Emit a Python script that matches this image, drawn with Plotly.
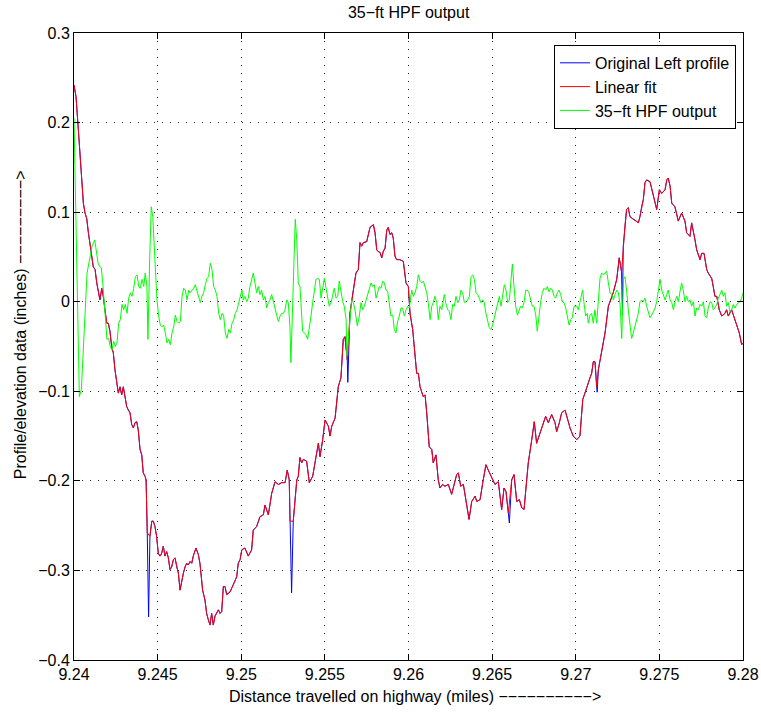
import plotly.graph_objects as go

# ---------------- data ----------------
fit_x = [9.24000, 9.24012, 9.24026, 9.24036, 9.24046, 9.24056, 9.24066, 9.24076, 9.24086, 9.24096,
         9.24106, 9.24115, 9.24126, 9.24136, 9.24145, 9.24155, 9.24166, 9.24175, 9.24185, 9.24196,
         9.24205, 9.24215, 9.24225, 9.24235, 9.24245, 9.24255, 9.24265, 9.24275, 9.24285, 9.24295,
         9.24305, 9.24315, 9.24325, 9.24335, 9.24345, 9.24355, 9.24365, 9.24375, 9.24384, 9.24395,
         9.24405, 9.24414, 9.24425, 9.24431, 9.24438, 9.24454, 9.24465, 9.24474, 9.24484, 9.24494,
         9.24504, 9.24514, 9.24524, 9.24534, 9.24544, 9.24554, 9.24564, 9.24574, 9.24584, 9.24594,
         9.24604, 9.24614, 9.24624, 9.24634, 9.24644, 9.24654, 9.24664, 9.24674, 9.24683, 9.24694,
         9.24704, 9.24713, 9.24729, 9.24743, 9.24753, 9.24769, 9.24783, 9.24793, 9.24803, 9.24813,
         9.24823, 9.24833, 9.24843, 9.24853, 9.24863, 9.24873, 9.24883, 9.24893, 9.24903, 9.24913,
         9.24923, 9.24933, 9.24952, 9.24963, 9.24973, 9.24982, 9.24993, 9.25003, 9.25022, 9.25042,
         9.25062, 9.25072, 9.25092, 9.25112, 9.25132, 9.25142, 9.25162, 9.25182, 9.25202, 9.25222,
         9.25242, 9.25262, 9.25275, 9.25287, 9.25291, 9.25311, 9.25321, 9.25332, 9.25341, 9.25351,
         9.25361, 9.25371, 9.25391, 9.25407, 9.25427, 9.25441, 9.25461, 9.25471, 9.25487, 9.25501,
         9.25521, 9.25531, 9.25541, 9.25561, 9.25580, 9.25596, 9.25610, 9.25620, 9.25634, 9.25650,
         9.25670, 9.25686, 9.25700, 9.25710, 9.25720, 9.25730, 9.25750, 9.25760, 9.25770, 9.25790,
         9.25800, 9.25810, 9.25819, 9.25830, 9.25840, 9.25849, 9.25860, 9.25870, 9.25879, 9.25889,
         9.25900, 9.25909, 9.25919, 9.25929, 9.25949, 9.25969, 9.25985, 9.25999, 9.26009, 9.26025,
         9.26039, 9.26049, 9.26059, 9.26069, 9.26088, 9.26099, 9.26109, 9.26124, 9.26139, 9.26148,
         9.26164, 9.26178, 9.26188, 9.26204, 9.26218, 9.26238, 9.26258, 9.26272, 9.26288, 9.26298,
         9.26312, 9.26328, 9.26338, 9.26348, 9.26362, 9.26378, 9.26398, 9.26408, 9.26428, 9.26444,
         9.26463, 9.26477, 9.26497, 9.26517, 9.26537, 9.26557, 9.26571, 9.26583, 9.26597, 9.26617,
         9.26631, 9.26647, 9.26663, 9.26677, 9.26691, 9.26703, 9.26716, 9.26737, 9.26752, 9.26766,
         9.26786, 9.26806, 9.26820, 9.26836, 9.26856, 9.26876, 9.26886, 9.26902, 9.26916, 9.26936,
         9.26949, 9.26966, 9.26985, 9.27006, 9.27025, 9.27042, 9.27055, 9.27069, 9.27085, 9.27095,
         9.27105, 9.27115, 9.27125, 9.27135, 9.27145, 9.27155, 9.27175, 9.27195, 9.27215, 9.27224,
         9.27245, 9.27260, 9.27274, 9.27284, 9.27294, 9.27304, 9.27314, 9.27324, 9.27344, 9.27364,
         9.27374, 9.27384, 9.27394, 9.27404, 9.27414, 9.27424, 9.27444, 9.27464, 9.27484, 9.27500,
         9.27514, 9.27534, 9.27544, 9.27553, 9.27564, 9.27574, 9.27593, 9.27613, 9.27633, 9.27653,
         9.27663, 9.27683, 9.27693, 9.27713, 9.27723, 9.27743, 9.27753, 9.27767, 9.27783, 9.27792,
         9.27813, 9.27822, 9.27832, 9.27843, 9.27858, 9.27873, 9.27892, 9.27902, 9.27912, 9.27932,
         9.27952, 9.27962, 9.27978, 9.27992, 9.28000]
fit_y = [0.242, 0.229, 0.192, 0.162, 0.133, 0.110, 0.099, 0.093, 0.077, 0.066,
         0.051, 0.039, 0.036, 0.021, 0.010, 0.002, 0.015, 0.006, -0.009, -0.024,
         -0.024, -0.033, -0.050, -0.057, -0.076, -0.087, -0.102, -0.095, -0.104, -0.095,
         -0.106, -0.117, -0.121, -0.124, -0.137, -0.141, -0.135, -0.134, -0.143, -0.165,
         -0.171, -0.191, -0.195, -0.199, -0.258, -0.262, -0.245, -0.245, -0.251, -0.262,
         -0.281, -0.284, -0.281, -0.273, -0.284, -0.279, -0.286, -0.299, -0.296, -0.288,
         -0.286, -0.296, -0.303, -0.322, -0.310, -0.303, -0.296, -0.292, -0.294, -0.290,
         -0.292, -0.284, -0.275, -0.282, -0.292, -0.322, -0.333, -0.348, -0.355, -0.361,
         -0.348, -0.361, -0.351, -0.348, -0.344, -0.348, -0.346, -0.318, -0.318, -0.327,
         -0.325, -0.324, -0.316, -0.312, -0.307, -0.292, -0.288, -0.277, -0.275, -0.284,
         -0.277, -0.255, -0.251, -0.240, -0.238, -0.227, -0.238, -0.214, -0.201, -0.204,
         -0.202, -0.202, -0.188, -0.199, -0.245, -0.245, -0.221, -0.199, -0.195, -0.174,
         -0.180, -0.176, -0.178, -0.202, -0.195, -0.180, -0.158, -0.173, -0.154, -0.132,
         -0.139, -0.150, -0.139, -0.130, -0.095, -0.085, -0.042, -0.039, -0.065, -0.013,
         0.013, 0.032, 0.036, 0.066, 0.062, 0.066, 0.067, 0.077, 0.083, 0.086,
         0.077, 0.058, 0.056, 0.055, 0.049, 0.056, 0.060, 0.080, 0.083, 0.075,
         0.077, 0.071, 0.051, 0.047, 0.047, 0.045, 0.021, 0.017, -0.013, -0.031,
         -0.057, -0.080, -0.080, -0.095, -0.106, -0.104, -0.124, -0.162, -0.165, -0.180,
         -0.171, -0.199, -0.208, -0.204, -0.206, -0.204, -0.215, -0.204, -0.193, -0.191,
         -0.206, -0.204, -0.217, -0.227, -0.243, -0.223, -0.217, -0.223, -0.221, -0.202,
         -0.182, -0.188, -0.197, -0.204, -0.201, -0.232, -0.208, -0.212, -0.236, -0.199,
         -0.193, -0.223, -0.221, -0.230, -0.232, -0.206, -0.180, -0.154, -0.134, -0.158,
         -0.147, -0.135, -0.128, -0.135, -0.126, -0.135, -0.145, -0.135, -0.124, -0.121,
         -0.130, -0.141, -0.150, -0.154, -0.150, -0.109, -0.102, -0.093, -0.085, -0.080,
         -0.067, -0.067, -0.095, -0.076, -0.065, -0.055, -0.035, -0.005, 0.006, 0.010,
         0.025, 0.049, 0.033, 0.062, 0.084, 0.103, 0.105, 0.095, 0.092, 0.090,
         0.088, 0.095, 0.106, 0.114, 0.133, 0.136, 0.134, 0.118, 0.103, 0.125,
         0.121, 0.125, 0.136, 0.138, 0.129, 0.110, 0.106, 0.090, 0.099, 0.090,
         0.077, 0.073, 0.088, 0.069, 0.058, 0.047, 0.054, 0.054, 0.036, 0.032,
         0.026, 0.017, 0.006, 0.006, -0.009, -0.016, -0.013, -0.009, -0.016, -0.009,
         -0.020, -0.024, -0.035, -0.048, -0.046]

# samples where the original profile drops below the fitted line
spike_x = [9.24446, 9.25301, 9.25637, 9.26603, 9.27128, 9.27279]
spike_y = [-0.352, -0.325, -0.090, -0.247, -0.101, -0.015]

hpf_x = [9.24000, 9.24012, 9.24024, 9.24032, 9.24044, 9.24058, 9.24078, 9.24097, 9.24108, 9.24124,
         9.24132, 9.24144, 9.24154, 9.24163, 9.24172, 9.24181, 9.24187, 9.24197, 9.24207, 9.24217,
         9.24227, 9.24237, 9.24247, 9.24257, 9.24267, 9.24277, 9.24287, 9.24297, 9.24307, 9.24317,
         9.24327, 9.24337, 9.24347, 9.24357, 9.24367, 9.24377, 9.24387, 9.24396, 9.24407, 9.24417,
         9.24426, 9.24436, 9.24442, 9.24453, 9.24462, 9.24471, 9.24483, 9.24496, 9.24506, 9.24516,
         9.24526, 9.24536, 9.24546, 9.24556, 9.24566, 9.24576, 9.24586, 9.24596, 9.24606, 9.24616,
         9.24626, 9.24636, 9.24646, 9.24656, 9.24665, 9.24676, 9.24686, 9.24695, 9.24706, 9.24716,
         9.24725, 9.24735, 9.24746, 9.24755, 9.24765, 9.24775, 9.24785, 9.24795, 9.24805, 9.24815,
         9.24825, 9.24835, 9.24845, 9.24855, 9.24865, 9.24875, 9.24885, 9.24895, 9.24905, 9.24915,
         9.24925, 9.24935, 9.24945, 9.24955, 9.24964, 9.24975, 9.24985, 9.24994, 9.25004, 9.25012,
         9.25022, 9.25033, 9.25042, 9.25052, 9.25062, 9.25072, 9.25082, 9.25092, 9.25102, 9.25112,
         9.25122, 9.25132, 9.25142, 9.25152, 9.25162, 9.25172, 9.25182, 9.25192, 9.25202, 9.25212,
         9.25222, 9.25232, 9.25242, 9.25251, 9.25262, 9.25272, 9.25281, 9.25291, 9.25297, 9.25308,
         9.25315, 9.25323, 9.25332, 9.25341, 9.25351, 9.25361, 9.25367, 9.25377, 9.25387, 9.25397,
         9.25407, 9.25417, 9.25427, 9.25437, 9.25447, 9.25457, 9.25467, 9.25477, 9.25487, 9.25497,
         9.25507, 9.25517, 9.25526, 9.25537, 9.25547, 9.25556, 9.25567, 9.25577, 9.25586, 9.25596,
         9.25607, 9.25616, 9.25627, 9.25632, 9.25640, 9.25650, 9.25660, 9.25670, 9.25680, 9.25694,
         9.25706, 9.25716, 9.25726, 9.25736, 9.25746, 9.25756, 9.25766, 9.25776, 9.25786, 9.25796,
         9.25806, 9.25816, 9.25825, 9.25836, 9.25846, 9.25855, 9.25866, 9.25876, 9.25885, 9.25895,
         9.25906, 9.25915, 9.25925, 9.25935, 9.25945, 9.25955, 9.25965, 9.25975, 9.25985, 9.25995,
         9.26005, 9.26019, 9.26029, 9.26039, 9.26049, 9.26059, 9.26069, 9.26079, 9.26089, 9.26099,
         9.26109, 9.26118, 9.26129, 9.26139, 9.26148, 9.26158, 9.26169, 9.26178, 9.26188, 9.26199,
         9.26208, 9.26214, 9.26222, 9.26234, 9.26244, 9.26254, 9.26264, 9.26274, 9.26284, 9.26294,
         9.26304, 9.26314, 9.26324, 9.26334, 9.26344, 9.26354, 9.26364, 9.26374, 9.26384, 9.26394,
         9.26404, 9.26414, 9.26423, 9.26433, 9.26444, 9.26453, 9.26463, 9.26474, 9.26483, 9.26493,
         9.26503, 9.26513, 9.26523, 9.26533, 9.26543, 9.26553, 9.26563, 9.26573, 9.26583, 9.26593,
         9.26603, 9.26613, 9.26621, 9.26631, 9.26641, 9.26651, 9.26661, 9.26671, 9.26680, 9.26691,
         9.26701, 9.26710, 9.26720, 9.26731, 9.26740, 9.26750, 9.26761, 9.26770, 9.26780, 9.26790,
         9.26800, 9.26810, 9.26820, 9.26830, 9.26840, 9.26850, 9.26860, 9.26870, 9.26880, 9.26890,
         9.26900, 9.26910, 9.26920, 9.26930, 9.26940, 9.26949, 9.26960, 9.26970, 9.26979, 9.26990,
         9.27006, 9.27015, 9.27025, 9.27035, 9.27041, 9.27049, 9.27059, 9.27069, 9.27075, 9.27085,
         9.27095, 9.27105, 9.27115, 9.27125, 9.27135, 9.27145, 9.27155, 9.27165, 9.27175, 9.27185,
         9.27195, 9.27205, 9.27215, 9.27225, 9.27235, 9.27245, 9.27255, 9.27265, 9.27275, 9.27285,
         9.27294, 9.27304, 9.27314, 9.27324, 9.27334, 9.27344, 9.27354, 9.27364, 9.27374, 9.27384,
         9.27394, 9.27404, 9.27414, 9.27424, 9.27434, 9.27444, 9.27454, 9.27464, 9.27474, 9.27484,
         9.27494, 9.27504, 9.27514, 9.27524, 9.27534, 9.27544, 9.27553, 9.27564, 9.27574, 9.27584,
         9.27593, 9.27604, 9.27613, 9.27623, 9.27633, 9.27643, 9.27653, 9.27663, 9.27673, 9.27683,
         9.27693, 9.27703, 9.27713, 9.27723, 9.27733, 9.27743, 9.27753, 9.27763, 9.27773, 9.27783,
         9.27792, 9.27803, 9.27813, 9.27822, 9.27832, 9.27843, 9.27852, 9.27862, 9.27873, 9.27882,
         9.27892, 9.27902, 9.27912, 9.27922, 9.27932, 9.27942, 9.27952, 9.27962, 9.27972, 9.27982,
         9.27992, 9.28000]
hpf_y = [0.205, 0.080, -0.054, -0.106, -0.098, -0.042, 0.032, 0.051, 0.062, 0.069,
         0.058, 0.043, 0.039, 0.038, 0.021, 0.002, -0.016, -0.042, -0.041, -0.050,
         -0.054, -0.044, -0.050, -0.046, -0.024, -0.020, -0.003, -0.009, -0.003, -0.013,
         0.004, 0.010, 0.006, 0.015, 0.028, 0.030, 0.017, 0.015, 0.025, 0.017,
         0.032, 0.017, -0.042, 0.051, 0.106, 0.095, 0.051, 0.002, -0.016, -0.026,
         -0.028, -0.026, -0.035, -0.046, -0.042, -0.048, -0.035, -0.028, -0.015, -0.022,
         -0.024, -0.022, 0.006, 0.015, 0.013, 0.002, 0.013, 0.010, 0.013, 0.015,
         0.019, 0.013, 0.006, -0.001, 0.006, 0.010, 0.019, 0.026, 0.028, 0.043,
         0.036, 0.017, 0.013, 0.006, -0.013, -0.020, -0.013, -0.016, -0.035, -0.041,
         -0.031, -0.035, -0.024, -0.020, -0.013, -0.009, -0.001, 0.006, 0.013, 0.002,
         0.006, 0.000, 0.004, 0.017, 0.025, 0.032, 0.021, 0.010, 0.017, 0.008,
         0.013, 0.002, 0.006, -0.007, -0.001, 0.002, 0.008, -0.001, -0.009, -0.015,
         -0.022, -0.016, -0.013, -0.013, -0.009, 0.002, -0.001, -0.027, -0.068, 0.002,
         0.058, 0.092, 0.069, 0.021, 0.017, -0.009, -0.033, -0.035, -0.037, -0.042,
         -0.031, -0.016, -0.001, 0.010, 0.025, 0.026, 0.025, 0.004, 0.017, 0.026,
         0.015, 0.002, -0.005, -0.001, 0.010, 0.015, 0.004, 0.006, 0.023, 0.010,
         0.000, -0.005, -0.020, -0.061, -0.042, -0.013, 0.002, -0.001, -0.009, -0.027,
         -0.016, -0.001, -0.009, -0.005, 0.002, 0.008, 0.017, 0.021, 0.017, 0.019,
         0.004, 0.010, 0.017, 0.015, 0.023, 0.021, 0.013, 0.011, -0.005, -0.016,
         -0.015, -0.031, -0.035, -0.022, -0.016, -0.007, -0.007, -0.016, -0.009, -0.005,
         -0.007, 0.013, 0.006, 0.010, 0.017, 0.030, 0.023, 0.021, 0.023, 0.015,
         0.010, -0.001, -0.020, -0.005, -0.001, 0.006, -0.001, -0.020, -0.005, -0.009,
         0.002, 0.008, -0.001, -0.009, -0.011, -0.020, -0.003, -0.005, 0.006, -0.001,
         0.002, 0.013, 0.010, -0.001, 0.000, 0.002, 0.006, 0.028, 0.030, 0.025,
         0.010, 0.008, 0.004, -0.001, 0.002, -0.001, -0.013, -0.024, -0.029, -0.031,
         -0.026, -0.018, -0.011, -0.001, 0.006, -0.005, 0.010, 0.019, 0.013, -0.001,
         0.002, 0.025, 0.042, 0.017, -0.005, -0.015, -0.009, -0.005, -0.007, -0.001,
         0.013, 0.013, 0.010, 0.000, -0.005, -0.005, -0.015, -0.033, -0.016, 0.000,
         0.010, 0.015, 0.013, 0.017, 0.011, 0.015, 0.013, 0.006, 0.004, 0.010,
         0.013, 0.008, 0.000, -0.001, -0.007, -0.018, -0.026, -0.020, -0.018, -0.005,
         -0.005, -0.009, -0.001, 0.008, 0.013, -0.001, -0.016, -0.013, -0.024, -0.015,
         -0.013, -0.024, -0.009, -0.024, 0.008, 0.026, 0.032, 0.030, 0.032, 0.034,
         0.021, 0.010, 0.008, 0.002, 0.008, 0.013, 0.010, -0.003, -0.041, 0.025,
         0.028, 0.013, -0.009, -0.027, -0.041, -0.035, -0.027, -0.020, -0.013, 0.000,
         0.002, 0.000, 0.004, -0.005, -0.013, -0.018, -0.015, -0.011, -0.007, 0.000,
         0.013, 0.025, 0.013, 0.008, 0.002, 0.008, 0.013, 0.002, -0.001, -0.009,
         0.000, 0.006, 0.000, 0.011, 0.021, 0.013, 0.000, 0.006, 0.000, 0.002,
         -0.005, 0.000, -0.016, -0.007, -0.009, -0.003, -0.005, 0.000, -0.016, -0.018,
         -0.007, 0.000, -0.001, -0.009, -0.007, -0.003, 0.004, 0.008, 0.013, 0.006,
         0.010, -0.005, -0.001, -0.011, -0.009, -0.003, -0.007, -0.003, -0.001, 0.000,
         0.004, 0.010]

x_ticks = [9.24, 9.245, 9.25, 9.255, 9.26, 9.265, 9.27, 9.275, 9.28]
x_tick_text = ["9.24", "9.245", "9.25", "9.255", "9.26", "9.265", "9.27", "9.275", "9.28"]
y_ticks = [0.3, 0.2, 0.1, 0.0, -0.1, -0.2, -0.3, -0.4]
y_tick_text = ["0.3", "0.2", "0.1", "0", "\u22120.1", "\u22120.2", "\u22120.3", "\u22120.4"]

title_text = "35\u2212ft HPF output"
x_label = "Distance travelled on highway (miles) " + "\u2212" * 10 + ">"
y_label = "Profile/elevation data (inches) " + "\u2212" * 9 + ">"

# original profile = fitted path plus the spike samples
orig = sorted(list(zip(fit_x, fit_y)) + list(zip(spike_x, spike_y)))
orig_x = [p[0] for p in orig]
orig_y = [p[1] for p in orig]

FONT = "Liberation Sans, Arial, Helvetica, sans-serif"

fig = go.Figure()
fig.add_trace(go.Scatter(x=orig_x, y=orig_y, mode="lines", name="Original Left profile",
                         line=dict(color="#0000ff", width=1)))
fig.add_trace(go.Scatter(x=fit_x, y=fit_y, mode="lines", name="Linear fit",
                         line=dict(color="#ff0000", width=1)))
fig.add_trace(go.Scatter(x=hpf_x, y=hpf_y, mode="lines", name="35\u2212ft HPF output",
                         line=dict(color="#00ff00", width=1)))

axis_common = dict(
    showline=True, linecolor="black", linewidth=1, mirror="ticks",
    ticks="inside", ticklen=6, tickcolor="black", tickwidth=1,
    showgrid=True, gridcolor="#222222", gridwidth=1, griddash="1px,7px",
    zeroline=False, automargin=False,
    tickfont=dict(family=FONT, size=16, color="black"),
)

fig.update_xaxes(range=[9.24, 9.28], tickvals=x_ticks, ticktext=x_tick_text, **axis_common)
fig.update_yaxes(range=[-0.4, 0.3], tickvals=y_ticks, ticktext=y_tick_text, **axis_common)

fig.update_layout(
    width=761, height=713,
    margin=dict(l=74, r=18, t=33, b=53, autoexpand=False),
    paper_bgcolor="white", plot_bgcolor="white",
    title=dict(text=title_text, x=0.537, xanchor="center", xref="container",
               y=0.982, yanchor="middle", yref="container",
               font=dict(family=FONT, size=16, color="black")),
    showlegend=True,
    legend=dict(x=0.9895, xanchor="right", y=0.981, yanchor="top",
                bgcolor="white", bordercolor="black", borderwidth=1,
                font=dict(family=FONT, size=16, color="black"),
                itemwidth=30, tracegroupgap=0),
    annotations=[
        dict(text=x_label, xref="paper", yref="paper", x=0.509, y=-0.059,
             xanchor="center", yanchor="middle", showarrow=False,
             font=dict(family=FONT, size=16, color="black")),
        dict(text=y_label, xref="paper", yref="paper", x=-0.0807, y=0.534,
             xanchor="center", yanchor="middle", showarrow=False, textangle=-90,
             font=dict(family=FONT, size=16, color="black")),
    ],
)

fig.write_html("out.html")
